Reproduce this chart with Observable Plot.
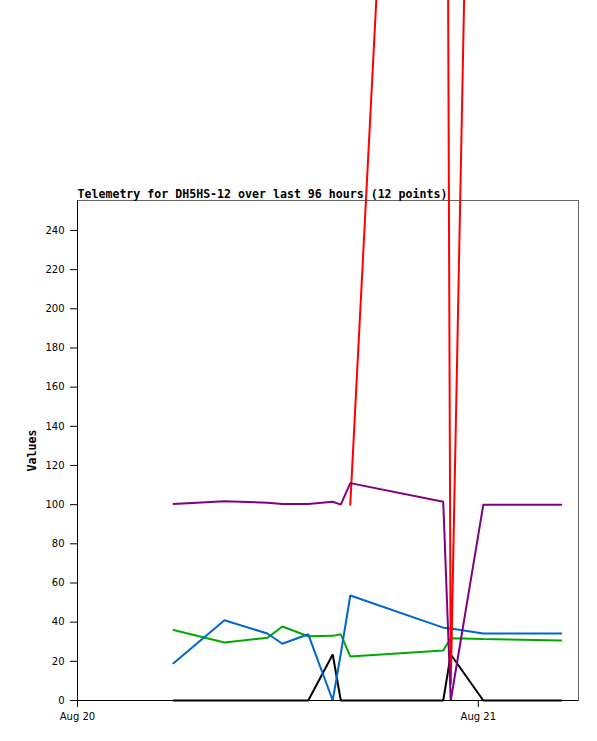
<!DOCTYPE html>
<html>
<head>
<meta charset="utf-8">
<script src="https://cdn.jsdelivr.net/npm/d3@7"></script>
<script src="https://cdn.jsdelivr.net/npm/@observablehq/plot@0.6"></script>
<style>
  html, body { margin: 0; padding: 0; background: #fff; }
</style>
</head>
<body>
<div id="chart"></div>
<script>
// ---- data ----
const times = [
  "2023-08-20T05:45Z", "2023-08-20T08:48Z", "2023-08-20T11:22Z", "2023-08-20T12:16Z",
  "2023-08-20T13:49Z", "2023-08-20T15:17Z", "2023-08-20T15:46Z", "2023-08-20T16:20Z",
  "2023-08-20T21:54Z", "2023-08-20T22:21Z", "2023-08-21T00:18Z", "2023-08-21T04:58Z"
];
const seriesBlack  = [0, 0, 0, 0, 0, 23.5, 0, 0, 0, 23.5, 0, 0];
const seriesGreen  = [36, 29.6, 32, 37.8, 32.8, 33, 33.8, 22.5, 25.5, 31.8, 31.4, 30.6];
const seriesBlue   = [19, 41, 34.2, 29, 33.8, 0, 24, 53.6, 37.2, 36.8, 34.2, 34.2];
const seriesRed    = [null, null, null, null, null, null, null, 100, 1020, 8, 860, 900];
const seriesPurple = [100.3, 101.8, 101, 100.3, 100.3, 101.5, 100, 111, 101.5, 0, 100, 100];
const seriesNames  = ["black", "green", "blue", "red", "purple"];
const seriesColors = ["#000000", "#00aa00", "#0066cc", "#ff0000", "#800080"];
const yTicks = [0, 20, 40, 60, 80, 100, 120, 140, 160, 180, 200, 220, 240];
const xTickDates = ["2023-08-20T00:00Z", "2023-08-21T00:00Z"];
const xDomain = ["2023-08-20T00:00Z", "2023-08-21T06:00Z"];
const yDomain = [0, 255.3];
const titleText = "Telemetry for DH5HS-12 over last 96 hours (12 points)";
const yLabel = "Values";

// ---- build table ----
const parse = s => new Date(s);
const allSeries = [seriesBlack, seriesGreen, seriesBlue, seriesRed, seriesPurple];
const rows = [];
allSeries.forEach((vals, si) => {
  vals.forEach((v, i) => {
    rows.push({series: seriesNames[si], t: parse(times[i]), v: v});
  });
});

const fmt = d3.utcFormat("%b %d");

const marks = [
  Plot.frame({stroke: "#666", strokeWidth: 1})
];
seriesNames.forEach((name, si) => {
  marks.push(Plot.line(rows.filter(r => r.series === name), {
    x: "t", y: "v", stroke: seriesColors[si], strokeWidth: 2, strokeLinejoin: "miter"
  }));
});
marks.push(
  Plot.ruleX([parse(xDomain[0])], {stroke: "#000", strokeWidth: 1}),
  Plot.ruleY([0], {stroke: "#000", strokeWidth: 1}),
  Plot.text([titleText], {
    text: d => d, frameAnchor: "top-left", textAnchor: "start", lineAnchor: "bottom",
    dy: -3, fontFamily: "DejaVu Sans Mono", fontWeight: "bold", fontSize: 11.6, fill: "#000"
  }),
  Plot.text([yLabel], {
    text: d => d, frameAnchor: "left", textAnchor: "middle", rotate: -90, dx: -45,
    fontFamily: "DejaVu Sans Mono", fontWeight: "bold", fontSize: 11.6, fill: "#000"
  })
);

const chart = Plot.plot({
  width: 597,
  height: 741,
  marginTop: 200,
  marginBottom: 41,
  marginLeft: 77,
  marginRight: 19,
  style: {fontFamily: "DejaVu Sans", fontSize: "10px", background: "#fff", color: "#000", overflow: "hidden"},
  x: {
    type: "utc",
    domain: xDomain.map(parse),
    ticks: xTickDates.map(parse),
    tickFormat: fmt,
    tickSize: 7,
    tickPadding: 5,
    label: null
  },
  y: {
    domain: yDomain,
    ticks: yTicks,
    tickSize: 7,
    tickPadding: 6,
    label: null
  },
  marks
});
document.getElementById("chart").appendChild(chart);
</script>
</body>
</html>
